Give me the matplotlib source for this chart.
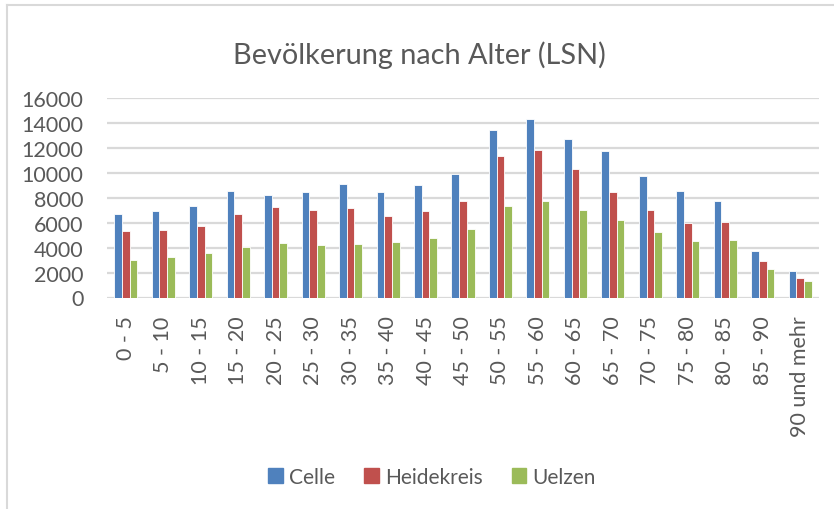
import matplotlib
matplotlib.use("Agg")
import matplotlib.pyplot as plt
import numpy as np
from matplotlib.patches import Rectangle
from matplotlib.lines import Line2D

categories = ["0 - 5", "5 - 10", "10 - 15", "15 - 20", "20 - 25", "25 - 30", "30 - 35",
              "35 - 40", "40 - 45", "45 - 50", "50 - 55", "55 - 60", "60 - 65", "65 - 70",
              "70 - 75", "75 - 80", "80 - 85", "85 - 90", "90 und mehr"]
celle = [6660, 6900, 7300, 8560, 8190, 8430, 9100, 8450, 9040, 9900, 13400, 14290,
         12710, 11770, 9710, 8510, 7730, 3740, 2140]
heidekreis = [5320, 5400, 5720, 6710, 7250, 6980, 7150, 6530, 6900, 7710, 11340, 11830,
              10300, 8430, 6980, 5970, 6020, 2890, 1530]
uelzen = [2970, 3240, 3560, 4060, 4340, 4200, 4280, 4420, 4740, 5460, 7310, 7730,
          7030, 6210, 5220, 4520, 4600, 2250, 1310]
series_names = ["Celle", "Heidekreis", "Uelzen"]
colors = ["#4F81BD", "#C0504D", "#9BBB59"]
yticks = [0, 2000, 4000, 6000, 8000, 10000, 12000, 14000, 16000]

FONT = "Lato"
TXT = "#595959"

fig = plt.figure(figsize=(8.34, 5.10), dpi=100)
ax = fig.add_axes([107/834, 1 - 298.5/510, (819 - 107)/834, (298.5 - 99)/510])

x = np.arange(len(categories))
w = 0.205
for i, (vals, c) in enumerate(zip([celle, heidekreis, uelzen], colors)):
    ax.bar(x + (i - 1) * w, vals, width=w, color=c, edgecolor="white", linewidth=0.6,
           zorder=3, label=series_names[i])

ax.set_xlim(-0.5, len(categories) - 0.5)
ax.set_ylim(0, 16000)
ax.set_yticks(yticks)
ax.set_yticklabels([str(v) for v in yticks], fontfamily=FONT, fontsize=15.5, color=TXT)
ax.set_xticks(x)
ax.set_xticklabels(categories, rotation=90, fontfamily=FONT, fontsize=15.5, color=TXT)
ax.tick_params(axis="both", length=0)
ax.tick_params(axis="y", pad=17)
ax.tick_params(axis="x", pad=13)
ax.grid(axis="y", color="#D9D9D9", linewidth=1.6, zorder=0)
for s in ax.spines.values():
    s.set_visible(False)

fig.text(419/834, 1 - 55/510, "Bevölkerung nach Alter (LSN)", ha="center", va="center",
         fontfamily=FONT, fontsize=20.8, color=TXT)

handles = [Rectangle((0, 0), 1, 1, color=c) for c in colors]
fig.legend(handles, series_names, loc="center", bbox_to_anchor=(432/834, 1 - 478/510),
           ncol=3, frameon=False, prop={"family": FONT, "size": 15},
           labelcolor=TXT, handlelength=0.7, handleheight=0.7, handletextpad=0.3,
           columnspacing=1.4)

# chart border (top and left visible)
fig.add_artist(Line2D([7/834, 7/834], [0, 1 - 6/510], color="#D9D9D9", linewidth=1.5,
                      transform=fig.transFigure))
fig.add_artist(Line2D([7/834, 1], [1 - 6/510, 1 - 6/510], color="#D9D9D9", linewidth=1.5,
                      transform=fig.transFigure))

fig.savefig("out.png", dpi=100, facecolor="white")
